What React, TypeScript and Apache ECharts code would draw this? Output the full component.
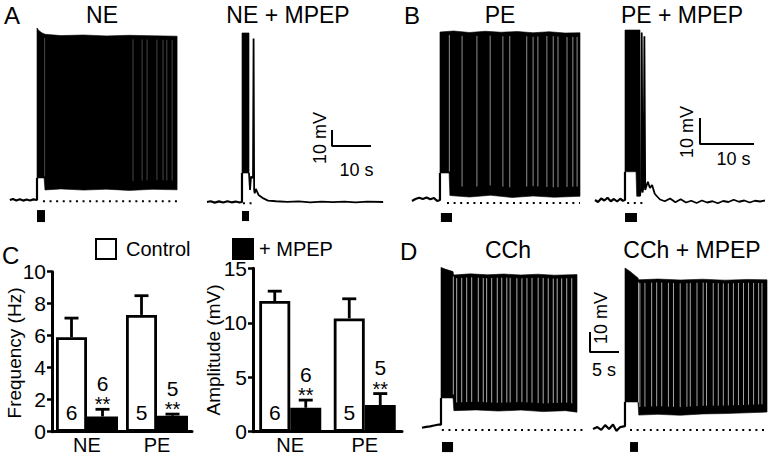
import React, { useEffect, useRef } from "react";
import * as echarts from "echarts";

type Pt = [number, number];

const FONT = '"Liberation Sans", Arial, Helvetica, sans-serif';

// ---------- Panel A : NE (time in s, potential in mV relative to rest) ----------
const neBaseline: Pt[] = [[2.6, 0], [3.4, 0.7], [4.3, -0.3], [5.2, 0.5], [6.1, -0.4], [7.0, 0.3], [7.9, -0.3], [8.8, 0.4], [9.74, 0], [9.74, 14.7]];
const neUpper: Pt[] = [[9.74, 114.7], [10.2, 113], [11.0, 111.5], [11.84, 110.5], [16, 109.6], [22, 110], [28, 109.4], [34, 109.8], [40, 109.5], [46.6, 109.2]];
const neLower: Pt[] = [[9.74, 14.7], [11.6, 14.7], [11.84, 6.7], [16, 7.4], [22, 6.6], [28, 7.2], [34, 6.4], [40, 7.1], [46.6, 6.8]];
const neGaps: number[] = [11.75, 35.0, 37.4, 38.7, 41.3, 42.9, 43.9, 45.3];
const neDots: Pt[] = [[11.3, -0.8], [46.6, -0.8]];
const neStim: number[] = [9.74, 11.84, -6.7, -14.7];

// ---------- Panel A : NE + MPEP ----------
const nmBaseline: Pt[] = [[1.84, 0], [2.8, 0.5], [3.9, -0.4], [5.0, 0.4], [6.1, -0.3], [7.2, 0.5], [8.3, -0.2], [9.4, 0.3], [10.4, -0.3], [11.05, 0], [11.05, 19.3]];
const nmUpper: Pt[] = [[11.05, 112.7], [12.9, 112.7]];
const nmLower: Pt[] = [[11.05, 19.3], [12.9, 19.3]];
const nmAfter: Pt[] = [[12.9, 19.3], [13.16, 8], [13.42, 16.9], [13.95, 16], [14.1, 109], [14.25, 8], [14.4, 5.8], [14.7, 8.7], [15.4, 4.7], [16.7, 2.4], [17.9, 0.9], [20, 0.5], [23, 0.1], [26, 0.4], [29, -0.2], [32, 0.3], [35, -0.1], [38, 0.3], [41, -0.2], [44, 0.2], [48.2, 0]];
const nmGaps: number[] = [];
const nmDots: Pt[] = [[11.3, -0.8], [14.5, -0.8]];
const nmStim: number[] = [11.05, 12.9, -6, -12.7];

// ---------- Panel B : PE ----------
const peBaseline: Pt[] = [[4.15, -0.4], [4.8, 0.4], [5.5, 0.9], [6.2, 0.4], [6.9, 1.0], [7.6, 0.3], [8.3, 0.8], [8.9, -0.4], [9.43, 0], [9.43, 10.8]];
const peUpper: Pt[] = [[9.43, 67.2], [12, 67.6], [15, 67.0], [18, 67.5], [21, 67.1], [24, 67.4], [27, 66.9], [30, 67.3], [33, 66.8], [35.85, 66.9]];
const peLower: Pt[] = [[9.43, 10.8], [11.15, 10.8], [11.3, 1.8], [15, 1.2], [19, 1.9], [23, 1.0], [27, 1.6], [31, 1.1], [35.85, 1.5]];
const peGaps: number[] = [11.2, 13.6, 16.4, 18.9, 21.3, 22.6, 25.8, 27.0, 27.9, 29.6, 30.8, 31.7, 33.4, 34.5, 35.3];
const peDots: Pt[] = [[10.75, -1.2], [35.85, -1.2]];
const peStim: number[] = [9.6, 11.7, -5.2, -8.8];

// ---------- Panel B : PE + MPEP ----------
const pmBaseline: Pt[] = [[2.83, 0], [3.4, -0.8], [4.0, 0.6], [4.6, -0.2], [5.2, 0.9], [5.8, -0.5], [6.4, 0.4], [7.0, -0.6], [7.6, 0.5], [8.1, -0.3], [8.49, 0], [8.49, 11.3]];
const pmUpper: Pt[] = [[8.49, 68], [11.32, 68]];
const pmLower: Pt[] = [[8.49, 11.3], [10.57, 11.3], [10.7, 1.5], [11.32, 1.5]];
const pmAfter: Pt[] = [[11.32, 1.5], [11.5, 4.5], [11.65, 67], [11.8, 3], [12.0, 5.5], [12.15, 65.5], [12.3, 4], [12.8, 7.3], [13.2, 4.8], [13.6, 6], [14.1, 2.5], [14.6, 1.3], [15.1, 0.2], [16, -0.5], [17, 0.6], [18, -0.9], [19, 0.3], [20, -1.0], [21, -0.3], [22, -1.2], [23, -0.2], [24, -1.0], [25, -0.5], [26, -1.3], [27, -0.4], [28, -0.8], [29, 0.1], [30, -0.7], [31, -0.2], [32, -1.0], [33, -0.3], [34, -0.6], [34.9, -0.2]];
const pmGaps: number[] = [];
const pmDots: Pt[] = [[8.9, -1.2], [12.6, -1.2]];
const pmStim: number[] = [8.49, 10.75, -5.2, -8.8];

// ---------- Panel D : CCh ----------
const cBaseline: Pt[] = [[0.36, -0.4], [1.1, 0.1], [1.8, 0.3], [2.5, 0.8], [3.2, 1.2], [3.75, 1.3], [3.75, 15.3]];
const cUpper: Pt[] = [[3.75, 84], [4.6, 83], [5.9, 81.8], [6.0, 80], [9, 80.6], [12, 80.1], [15, 80.5], [18, 80], [21, 80.4], [24, 79.9], [28.04, 80.2]];
const cLower: Pt[] = [[3.75, 15.3], [5.9, 15.3], [6.05, 8.6], [10, 9], [14, 8.4], [18, 8.9], [22, 8.1], [26, 8.6], [28.04, 7.8]];
const cGaps: number[] = [5.95, 6.55, 7.45, 8.34, 9.23, 10.41, 11.3, 11.9, 12.8, 13.8, 14.6, 15.5, 16.1, 17.3, 18.2, 19.1, 20.0, 21.1, 22.0, 22.9, 23.8, 24.5, 25.3, 26.2, 27.1];
const cDots: Pt[] = [[3.9, -1.6], [29.1, -1.6]];
const cStim: number[] = [3.93, 5.9, -7.9, -13.2];

// ---------- Panel D : CCh + MPEP ----------
const cmBaseline: Pt[] = [[1.43, -0.5], [2.2, 0.5], [2.9, -1], [3.6, 1.5], [4.3, -0.5], [5.0, 1.8], [5.6, -1.5], [6.3, 0.5], [7.14, 1.0], [7.14, 13.7]];
const cmUpper: Pt[] = [[7.14, 84.2], [8, 82.5], [9.46, 79], [9.6, 78], [13, 78.4], [17, 77.9], [21, 78.3], [25, 77.8], [29, 78.2], [32.5, 78.0]];
const cmLower: Pt[] = [[7.14, 13.7], [9.46, 13.7], [9.6, 6.8], [13, 7.2], [17, 6.7], [21, 7.4], [25, 7.6], [29, 8.0], [32.5, 8.4]];
const cmGaps: number[] = [9.55, 9.8, 10.7, 11.9, 12.8, 13.7, 14.9, 15.8, 17.0, 18.2, 18.8, 20.0, 21.1, 21.7, 22.9, 23.8, 24.7, 25.6, 26.5, 27.4, 28.3, 29.2, 30.1, 31.0, 31.6];
const cmDots: Pt[] = [[8.04, -1.05], [32.5, -1.05]];
const cmStim: number[] = [8.04, 9.46, -7.4, -12.6];

// ---------- Scale bars (origin corner [t, mV], lengths) ----------
const scaleBars = [
  { grid: 1, corner: [34.74, 37.3] as Pt, mv: 10, sec: 10, mvLabel: [31.7, 42.7] as Pt, secLabel: [41.2, 21.3] as Pt },
  { grid: 3, corner: [22.64, 22.4] as Pt, mv: 10, sec: 10, mvLabel: [20.19, 27.2] as Pt, secLabel: [28.96, 16.4] as Pt },
  { grid: 5, corner: [0.89, 40] as Pt, mv: 10, sec: 5, mvLabel: [2.86, 57.9] as Pt, secLabel: [3.39, 30.5] as Pt },
];

// ---------- Panel C : bar charts ----------
const categories = ["NE", "PE"];
const freqControl = [5.9, 7.3];
const freqControlSem = [1.2, 1.2];
const freqMpep = [0.95, 1.0];
const freqMpepSem = [0.45, 0.1];
const ampControl = [12.0, 10.4];
const ampControlSem = [0.9, 1.8];
const ampMpep = [2.2, 2.45];
const ampMpepSem = [0.7, 1.05];
const nControl = [6, 5];
const nMpep = [6, 5];

// ---------- layout ----------
const traceGrids = [
  { left: 0, top: 20, width: 190, height: 210, xMax: 50, yMin: -20, yMax: 120 },
  { left: 200, top: 22, width: 190, height: 210, xMax: 50, yMin: -20, yMax: 120 },
  { left: 390, top: 20, width: 190, height: 210, xMax: 35.85, yMin: -12, yMax: 72 },
  { left: 580, top: 20, width: 192, height: 210, xMax: 36.23, yMin: -12, yMax: 72 },
  { left: 420, top: 256, width: 170, height: 199.5, xMax: 30.36, yMin: -15, yMax: 90 },
  { left: 585, top: 257, width: 187, height: 199.5, xMax: 33.39, yMin: -15, yMax: 90 },
];

const traces = [
  { grid: 0, base: neBaseline, upper: neUpper, lower: neLower, gaps: neGaps, gapOpacity: 0.35, after: [] as Pt[], dots: neDots, stim: neStim },
  { grid: 1, base: nmBaseline, upper: nmUpper, lower: nmLower, gaps: nmGaps, gapOpacity: 0.5, after: nmAfter, dots: nmDots, stim: nmStim },
  { grid: 2, base: peBaseline, upper: peUpper, lower: peLower, gaps: peGaps, gapOpacity: 0.7, after: [] as Pt[], dots: peDots, stim: peStim },
  { grid: 3, base: pmBaseline, upper: pmUpper, lower: pmLower, gaps: pmGaps, gapOpacity: 0.7, after: pmAfter, dots: pmDots, stim: pmStim },
  { grid: 4, base: cBaseline, upper: cUpper, lower: cLower, gaps: cGaps, gapOpacity: 0.85, after: [] as Pt[], dots: cDots, stim: cStim },
  { grid: 5, base: cmBaseline, upper: cmUpper, lower: cmLower, gaps: cmGaps, gapOpacity: 0.8, after: [] as Pt[], dots: cmDots, stim: cmStim },
];

const BAR_W = 31;

function interp(arr: Pt[], t: number): number {
  if (t <= arr[0][0]) return arr[0][1];
  for (let i = 1; i < arr.length; i++) {
    if (t <= arr[i][0]) {
      const [t0, v0] = arr[i - 1];
      const [t1, v1] = arr[i];
      if (t1 === t0) return v1;
      return v0 + ((v1 - v0) * (t - t0)) / (t1 - t0);
    }
  }
  return arr[arr.length - 1][1];
}

function textEl(x: number, y: number, text: string, size: number, rotation = 0) {
  return {
    type: "text",
    x,
    y,
    rotation,
    style: {
      text,
      fill: "#000",
      fontSize: size,
      fontFamily: FONT,
      align: "center",
      verticalAlign: "middle",
      textAlign: "center",
      textVerticalAlign: "middle",
    },
  };
}

function buildSeries(): any[] {
  const series: any[] = [];
  traces.forEach((tr) => {
    const g = tr.grid;
    // spike envelope block
    series.push({
      type: "custom",
      xAxisIndex: g,
      yAxisIndex: g,
      silent: true,
      data: [[tr.upper[0][0], tr.upper[0][1]]],
      renderItem: (_p: any, api: any) => {
        const pts = tr.upper.map((p) => api.coord(p)).concat(tr.lower.slice().reverse().map((p) => api.coord(p)));
        return { type: "polygon", shape: { points: pts }, style: { fill: "#000", stroke: "#000", lineWidth: 0.6 } };
      },
    });
    // gaps between spikes
    if (tr.gaps.length) {
      series.push({
        type: "custom",
        xAxisIndex: g,
        yAxisIndex: g,
        silent: true,
        data: tr.gaps.map((t) => [t, interp(tr.lower, t)]),
        renderItem: (_p: any, api: any) => {
          const t = api.value(0);
          const lo = interp(tr.lower, t);
          const hi = interp(tr.upper, t);
          const a = api.coord([t, lo + (hi - lo) * 0.06]);
          const b = api.coord([t, hi - (hi - lo) * 0.025]);
          return { type: "line", shape: { x1: a[0], y1: a[1], x2: b[0], y2: b[1] }, style: { stroke: "#fff", lineWidth: 0.8, opacity: tr.gapOpacity } };
        },
      });
    }
    // baseline trace
    series.push({
      type: "line",
      xAxisIndex: g,
      yAxisIndex: g,
      data: tr.base,
      symbol: "none",
      silent: true,
      lineStyle: { color: "#000", width: 2.2 },
    });
    if (tr.after.length) {
      series.push({
        type: "line",
        xAxisIndex: g,
        yAxisIndex: g,
        data: tr.after,
        symbol: "none",
        silent: true,
        lineStyle: { color: "#000", width: 1.8 },
      });
    }
    // dotted reference line
    series.push({
      type: "line",
      xAxisIndex: g,
      yAxisIndex: g,
      data: tr.dots,
      symbol: "none",
      silent: true,
      lineStyle: { color: "#000", width: 2, type: [2, 4.6] },
    });
    // stimulus box
    series.push({
      type: "custom",
      xAxisIndex: g,
      yAxisIndex: g,
      silent: true,
      data: [tr.stim],
      renderItem: (_p: any, api: any) => {
        const a = api.coord([api.value(0), api.value(2)]);
        const b = api.coord([api.value(1), api.value(3)]);
        return { type: "rect", shape: { x: a[0], y: a[1], width: b[0] - a[0], height: b[1] - a[1] }, style: { fill: "#000" } };
      },
    });
  });

  scaleBars.forEach((sb) => {
    const [t, v] = sb.corner;
    series.push({
      type: "line",
      xAxisIndex: sb.grid,
      yAxisIndex: sb.grid,
      data: [[t, v + sb.mv], [t, v], [t + sb.sec, v]],
      symbol: "none",
      silent: true,
      lineStyle: { color: "#000", width: 2, cap: "square" },
    });
    series.push({
      type: "custom",
      xAxisIndex: sb.grid,
      yAxisIndex: sb.grid,
      silent: true,
      data: [[sb.mvLabel[0], sb.mvLabel[1], 1], [sb.secLabel[0], sb.secLabel[1], 0]],
      renderItem: (p: any, api: any) => {
        const c = api.coord([api.value(0), api.value(1)]);
        const isMv = api.value(2) === 1;
        return textEl(c[0], c[1], isMv ? `${sb.mv} mV` : `${sb.sec} s`, 18, isMv ? Math.PI / 2 : 0);
      },
    });
  });

  // bar charts
  const barDefs = [
    { axis: 6, control: freqControl, controlSem: freqControlSem, mpep: freqMpep, mpepSem: freqMpepSem },
    { axis: 7, control: ampControl, controlSem: ampControlSem, mpep: ampMpep, mpepSem: ampMpepSem },
  ];
  barDefs.forEach((bd) => {
    series.push({
      name: "Control",
      type: "bar",
      xAxisIndex: bd.axis,
      yAxisIndex: bd.axis,
      data: bd.control,
      barWidth: BAR_W,
      barGap: "0%",
      silent: true,
      itemStyle: { color: "#fff", borderColor: "#000", borderWidth: 2.8 },
      label: {
        show: true,
        position: "insideBottom",
        distance: 9,
        formatter: (p: any) => String(nControl[p.dataIndex]),
        fontSize: 21,
        fontFamily: FONT,
        color: "#000",
      },
    });
    series.push({
      name: "+ MPEP",
      type: "bar",
      xAxisIndex: bd.axis,
      yAxisIndex: bd.axis,
      data: bd.mpep,
      barWidth: BAR_W,
      barGap: "0%",
      silent: true,
      itemStyle: { color: "#000", borderColor: "#000", borderWidth: 2.8 },
    });
    const errs = [
      { means: bd.control, sems: bd.controlSem, side: -1, ns: null as number[] | null },
      { means: bd.mpep, sems: bd.mpepSem, side: 1, ns: nMpep },
    ];
    errs.forEach((e) => {
      series.push({
        type: "custom",
        xAxisIndex: bd.axis,
        yAxisIndex: bd.axis,
        silent: true,
        z: 5,
        data: e.means.map((m, i) => [i, m, e.sems[i]]),
        renderItem: (p: any, api: any) => {
          const i = api.value(0);
          const m = api.value(1);
          const s = api.value(2);
          const base = api.coord([i, m]);
          const tip = api.coord([i, m + s]);
          const x = base[0] + (e.side * BAR_W) / 2;
          const children: any[] = [
            { type: "line", shape: { x1: x, y1: base[1], x2: x, y2: tip[1] }, style: { stroke: "#000", lineWidth: 2.8 } },
            { type: "line", shape: { x1: x - 7, y1: tip[1], x2: x + 7, y2: tip[1] }, style: { stroke: "#000", lineWidth: 2.8 } },
          ];
          if (e.ns) {
            children.push(textEl(x, tip[1] - 5, "**", 20));
            children.push(textEl(x, tip[1] - 26, String(e.ns[p.dataIndex]), 21));
          }
          return { type: "group", children };
        },
      });
    });
  });
  return series;
}

function buildOption(): any {
  const grids: any[] = traceGrids.map((g) => ({ left: g.left, top: g.top, width: g.width, height: g.height, containLabel: false, outerBoundsMode: "none" }));
  grids.push({ left: 52, top: 271.7, width: 140, height: 160, containLabel: false, outerBoundsMode: "none" });
  grids.push({ left: 253, top: 268.3, width: 149, height: 163.4, containLabel: false, outerBoundsMode: "none" });

  const xAxes: any[] = traceGrids.map((g, i) => ({ type: "value", gridIndex: i, min: 0, max: g.xMax, show: false }));
  const yAxes: any[] = traceGrids.map((g, i) => ({ type: "value", gridIndex: i, min: g.yMin, max: g.yMax, show: false }));

  const catAxis = (gi: number) => ({
    type: "category",
    gridIndex: gi,
    data: categories,
    axisLine: { lineStyle: { color: "#000", width: 3 } },
    axisTick: { show: false },
    axisLabel: { color: "#000", fontSize: 20, fontFamily: FONT, margin: 3, lineHeight: 20 },
    splitLine: { show: false },
  });
  const valAxis = (gi: number, max: number, interval: number) => ({
    type: "value",
    gridIndex: gi,
    min: 0,
    max,
    interval,
    axisLine: { show: true, lineStyle: { color: "#000", width: 3 } },
    axisTick: { show: true, length: 5, lineStyle: { color: "#000", width: 2.5 } },
    axisLabel: { color: "#000", fontSize: 21, fontFamily: FONT, margin: 6 },
    splitLine: { show: false },
  });
  xAxes.push(catAxis(6), catAxis(7));
  yAxes.push(valAxis(6, 10, 2), valAxis(7, 15, 5));

  const legendText = { fontSize: 20, fontFamily: FONT, color: "#000" };
  return {
    animation: false,
    backgroundColor: "#fff",
    grid: grids,
    xAxis: xAxes,
    yAxis: yAxes,
    legend: [
      { data: ["Control"], left: 95, top: 238, padding: 0, itemWidth: 20, itemHeight: 20, icon: "rect", selectedMode: false, textStyle: { ...legendText, padding: [0, 0, 0, 5] } },
      { data: ["+ MPEP"], left: 232, top: 238, padding: 0, itemWidth: 20, itemHeight: 20, icon: "rect", selectedMode: false, textStyle: { ...legendText, padding: [0, 0, 0, 1] } },
    ],
    graphic: [
      { type: "text", left: 4, top: 3, style: { text: "A", fontSize: 24, fontFamily: FONT, fill: "#000" } },
      { type: "text", left: 404, top: 3, style: { text: "B", fontSize: 24, fontFamily: FONT, fill: "#000" } },
      { type: "text", left: 2, top: 243, style: { text: "C", fontSize: 24, fontFamily: FONT, fill: "#000" } },
      { type: "text", left: 400, top: 239, style: { text: "D", fontSize: 24, fontFamily: FONT, fill: "#000" } },
      textEl(102, 15, "NE", 23),
      textEl(288, 15, "NE + MPEP", 23),
      textEl(500, 15, "PE", 23),
      textEl(682, 15, "PE + MPEP", 23),
      textEl(508, 250, "CCh", 23),
      textEl(692, 250, "CCh + MPEP", 23),
      textEl(14, 353, "Frequency (Hz)", 19, Math.PI / 2),
      textEl(213, 350, "Amplitude (mV)", 19, Math.PI / 2),
    ],
    series: buildSeries(),
  };
}

export default function App() {
  const ref = useRef<HTMLDivElement>(null);
  useEffect(() => {
    if (!ref.current) return;
    const chart = echarts.init(ref.current, undefined, { renderer: "svg" });
    chart.setOption(buildOption());
    return () => chart.dispose();
  }, []);
  return <div ref={ref} style={{ position: "fixed", left: 0, top: 0, width: 772, height: 457, background: "#fff" }} />;
}
